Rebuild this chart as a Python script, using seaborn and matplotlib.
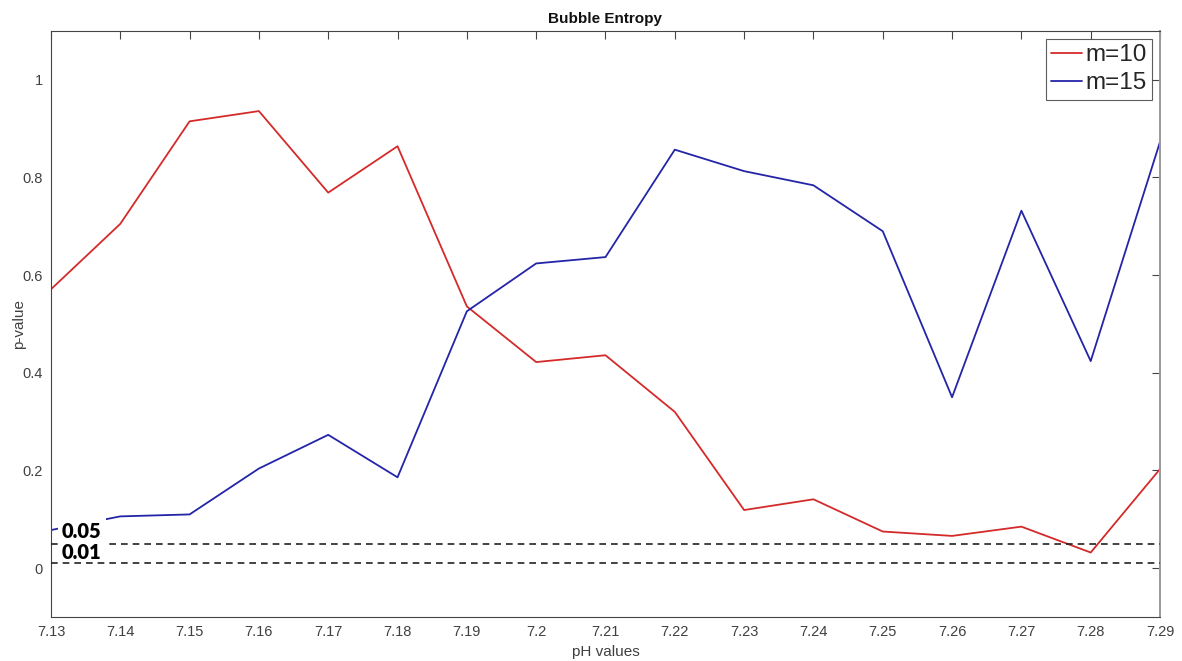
import matplotlib
matplotlib.use("Agg")
import matplotlib.pyplot as plt
import seaborn as sns
import pandas as pd

# pH values tested and the p-values for each embedding dimension
ph_values = [7.13, 7.14, 7.15, 7.16, 7.17, 7.18, 7.19, 7.20, 7.21,
             7.22, 7.23, 7.24, 7.25, 7.26, 7.27, 7.28, 7.29]
p_m10 = [0.571, 0.705, 0.915, 0.936, 0.769, 0.864, 0.536, 0.422, 0.436,
         0.320, 0.119, 0.141, 0.075, 0.066, 0.085, 0.032, 0.203]
p_m15 = [0.078, 0.106, 0.110, 0.204, 0.273, 0.186, 0.526, 0.624, 0.637,
         0.857, 0.813, 0.784, 0.690, 0.350, 0.732, 0.424, 0.873]
series_names = ["m=10", "m=15"]
thresholds = [0.05, 0.01]
threshold_labels = ["0.05", "0.01"]
x_tick_labels = ["7.13", "7.14", "7.15", "7.16", "7.17", "7.18", "7.19", "7.2",
                 "7.21", "7.22", "7.23", "7.24", "7.25", "7.26", "7.27", "7.28", "7.29"]
y_ticks = [0, 0.2, 0.4, 0.6, 0.8, 1.0]
y_tick_labels = ["0", "0.2", "0.4", "0.6", "0.8", "1"]

df = pd.concat([
    pd.DataFrame({"pH": ph_values, "p": p_m10, "m": series_names[0]}),
    pd.DataFrame({"pH": ph_values, "p": p_m15, "m": series_names[1]}),
], ignore_index=True)

sns.set_theme(style="white")
plt.rcParams["font.family"] = ["Liberation Sans", "DejaVu Sans"]

fig = plt.figure(figsize=(11.82, 6.61), dpi=100)
ax = fig.add_axes([0.0431, 0.0666, 0.9383, 0.8865])

axis_col = "#444444"
palette = {"m=10": "#d42a2a", "m=15": "#2424a8"}

sns.lineplot(data=df, x="pH", y="p", hue="m", palette=palette, ax=ax,
             linewidth=1.3, zorder=2, legend=True)

# significance thresholds with their labels
for t in thresholds:
    ax.axhline(t, color="#222222", linestyle=(0, (4, 3)), linewidth=1.2, zorder=3)

ax.text(7.1316, 0.062, threshold_labels[0], fontsize=14.5, fontweight="heavy",
        family=["Lato", "DejaVu Sans"], color="black", ha="left", va="baseline",
        zorder=4, bbox=dict(facecolor="white", edgecolor="none", pad=3.0))
ax.text(7.1316, 0.018, threshold_labels[1], fontsize=14.5, fontweight="heavy",
        family=["Lato", "DejaVu Sans"], color="black", ha="left", va="baseline",
        zorder=4)

ax.set_xlim(7.13, 7.29)
ax.set_ylim(-0.1, 1.1)
ax.set_xticks(ph_values)
ax.set_xticklabels(x_tick_labels)
ax.set_yticks(y_ticks)
ax.set_yticklabels(y_tick_labels)

ax.tick_params(axis="both", direction="in", length=6, width=0.8, colors=axis_col,
               labelsize=10.5, labelcolor="#404040", top=True, right=True, pad=6)
for s in ax.spines.values():
    s.set_visible(True)
    s.set_color(axis_col)
    s.set_linewidth(0.8)
ax.spines["right"].set_color("#9a9a9a")
ax.spines["right"].set_linewidth(1.4)

ax.set_title("Bubble Entropy", fontsize=11, fontweight="bold", color="#111111", pad=6)
ax.set_xlabel("pH values", fontsize=11, color="#404040", labelpad=4)
ax.set_ylabel("p-value", fontsize=11, color="#404040", labelpad=-3)

leg = ax.legend(loc="upper right", fontsize=17.5, frameon=True, fancybox=False,
                handlelength=1.25, handletextpad=0.15, borderpad=0.22,
                labelspacing=0.25, borderaxespad=0.33)
leg.get_frame().set_edgecolor("#333333")
leg.get_frame().set_linewidth(0.8)
leg.set_title(None)

fig.savefig("out.png", dpi=100, facecolor="white")
